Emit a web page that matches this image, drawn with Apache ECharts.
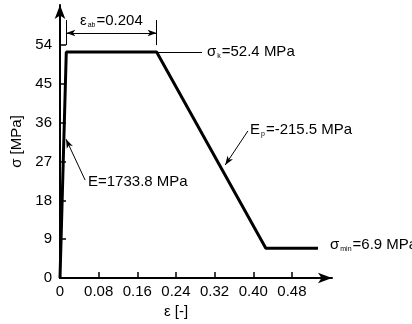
<!DOCTYPE html>
<html>
<head>
<meta charset="utf-8">
<script src="https://cdn.jsdelivr.net/npm/echarts@6/dist/echarts.min.js"></script>
<style>
  html, body { margin: 0; padding: 0; background: #fff; }
  #chart { width: 412px; height: 324px; }
</style>
</head>
<body>
<div id="chart"></div>
<script>
// stress-strain curve
const strain = [0, 0.013, 0.200, 0.426, 0.534];
const stress = [0, 52.4, 52.4, 6.9, 6.9];
const xTicks = [0, 0.08, 0.16, 0.24, 0.32, 0.40, 0.48];
const yTicks = [0, 9, 18, 27, 36, 45, 54];

const font = 'Liberation Sans, Arial, sans-serif';
const chart = echarts.init(document.getElementById('chart'));

const thin = { color: '#000', width: 1, type: 'solid' };
const sub = { fontSize: 7, fontFamily: font, color: '#333', padding: [9, 1, 0, 1] };
const main = { fontSize: 15, fontFamily: font, color: '#000' };

chart.setOption({
    animation: false,
    grid: { left: 60, top: 5, width: 272, height: 273 },
    xAxis: {
        type: 'value', min: 0, max: 0.563,
        name: 'ε [-]', nameLocation: 'middle', nameGap: 26,
        nameTextStyle: { fontSize: 15, fontFamily: font, color: '#000', padding: [0, 40, 0, 0] },
        axisLine: { lineStyle: { color: '#000', width: 2 }, symbol: ['none', 'arrow'], symbolSize: [8, 14] },
        axisTick: { inside: true, length: 6, lineStyle: { color: '#000', width: 1.5 }, customValues: xTicks },
        axisLabel: {
            customValues: xTicks, fontSize: 15, fontFamily: font, color: '#000', margin: 6,
            formatter: v => v === 0 ? '0' : v.toFixed(2)
        },
        splitLine: { show: false }
    },
    yAxis: {
        type: 'value', min: 0, max: 63.3,
        name: 'σ [MPa]', nameLocation: 'middle', nameGap: 33, nameRotate: 90,
        nameTextStyle: { fontSize: 15, fontFamily: font, color: '#000' },
        axisLine: { show: true, lineStyle: { color: '#000', width: 2 }, symbol: ['none', 'arrow'], symbolSize: [8, 14] },
        axisTick: { show: true, inside: true, length: 6, lineStyle: { color: '#000', width: 1.5 }, customValues: yTicks },
        axisLabel: { customValues: yTicks, fontSize: 15, fontFamily: font, color: '#000', margin: 8 },
        splitLine: { show: false }
    },
    series: [{
        type: 'line',
        data: strain.map((x, i) => [x, stress[i]]),
        symbol: 'none',
        lineStyle: { color: '#000', width: 3 },
        markLine: {
            silent: true,
            symbol: 'none',
            label: { show: false },
            lineStyle: thin,
            data: [
                // sigma_k leader
                [{ coord: [strain[2], stress[2]] }, { coord: [0.294, stress[2]] }],
                // dimension extension lines
                [{ coord: [strain[1], 54] }, { coord: [strain[1], 59.8] }],
                [{ coord: [strain[2], 54] }, { coord: [strain[2], 59.8] }],
                // dimension arrow
                [{ coord: [strain[1], 56.8], symbol: 'arrow' }, { coord: [strain[2], 56.8], symbol: 'arrow' }],
                // E arrow
                [{ coord: [0.052, 22.7] }, { coord: [0.0125, 32.2], symbol: 'arrow' }],
                // Ep arrow
                [{ coord: [0.389, 34.1] }, { coord: [0.342, 26.2], symbol: 'arrow' }]
            ],
            symbolSize: [5, 9]
        }
    }],
    graphic: [
        { type: 'text', left: 80, top: 13, style: { rich: { a: main, s: sub }, text: '{a|ε}{s|ab}{a|=0.204}' } },
        { type: 'text', left: 207, top: 44, style: { rich: { a: main, s: sub }, text: '{a|σ}{s|k}{a|=52.4 MPa}' } },
        { type: 'text', left: 88, top: 174, style: { rich: { a: main, s: sub }, text: '{a|E=1733.8 MPa}' } },
        { type: 'text', left: 250, top: 122, style: { rich: { a: main, s: sub }, text: '{a|E}{s|p}{a|=-215.5 MPa}' } },
        { type: 'text', left: 330, top: 237, style: { rich: { a: main, s: sub }, text: '{a|σ}{s|min}{a|=6.9 MPa}' } }
    ]
});
</script>
</body>
</html>
